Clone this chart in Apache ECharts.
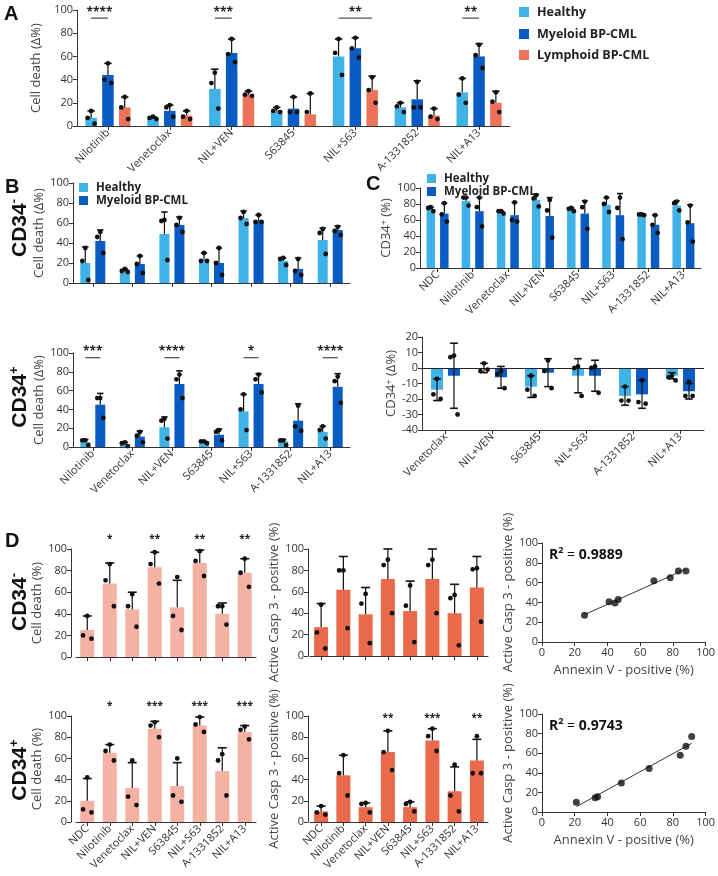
<!DOCTYPE html>
<html><head><meta charset="utf-8">
<script src="https://cdn.jsdelivr.net/npm/echarts@6/dist/echarts.min.js"></script>
<style>html,body{margin:0;padding:0;background:#fff}#c{width:718px;height:876px}</style>
</head><body><div id="c"></div>
<script>
// ---------------- DATA ----------------
const catsA = ['Nilotinib','Venetoclax','NIL+VEN','S63845','NIL+S63','A-1331852','NIL+A13'];
const A_healthyMean = [7, 7, 32, 13, 60, 16, 29];
const A_healthySd   = [6, 1, 17, 3, 15, 4, 12];
const A_healthyPts  = [[13,7,2],[8,7,6],[46,37,15],[16,13,12],[75,63,44],[20,17,12],[41,27,20]];
const A_myeloidMean = [44, 13, 63, 15, 67, 23, 60];
const A_myeloidSd   = [10, 5, 12, 10, 9, 16, 11];
const A_myeloidPts  = [[54,40,37],[18,16,8],[75,62,55],[25,12,12],[76,67,59],[38,16,16],[70,61,50]];
const A_lymphMean   = [16, 9, 27, 10, 31, 9, 20];
const A_lymphSd     = [9, 4, 3, 18, 12, 6, 10];
const A_lymphPts    = [[25,16,6],[13,8,6],[30,27,26],[28,12],[42,31,20],[15,8,6],[29,21,12]];
const A_sig = [{cat:0,from:0,to:1,y:93,t:'****'},{cat:2,from:0,to:1,y:93,t:'***'},{cat:4,from:0,to:2,y:93,t:'**'},{cat:6,from:0,to:1,y:93,t:'**'}];

const B1_healthyMean = [20, 12, 49, 24, 65, 22, 43];
const B1_healthySd   = [16, 2, 22, 6, 7, 3, 12];
const B1_healthyPts  = [[35,22,3],[14,12,11],[63,62,23],[30,22,22],[71,65,59],[25,24,18],[54,50,29]];
const B1_myeloidMean = [42, 19, 58, 20, 62, 14, 53];
const B1_myeloidSd   = [11, 8, 8, 15, 6, 11, 4];
const B1_myeloidPts  = [[51,46,30],[27,19,10],[65,58,51],[35,20,8],[68,61,61],[24,12,8],[56,52,48]];

const B2_healthyMean = [5, 3, 21, 5, 38, 6, 16];
const B2_healthySd   = [3, 2, 11, 1, 18, 2, 6];
const B2_healthyPts  = [[7,7,2],[5,4,1],[30,28,9],[6,6,4],[56,40,18],[7,7,2],[22,18,9]];
const B2_myeloidMean = [45, 11, 67, 13, 67, 28, 64];
const B2_myeloidSd   = [12, 6, 14, 6, 11, 18, 14];
const B2_myeloidPts  = [[52,52,31],[16,12,5],[77,72,52],[18,16,7],[77,72,58],[44,22,17],[75,70,47]];
const B2_sig = [{cat:0,from:0,to:1,y:95,t:'***'},{cat:2,from:0,to:1,y:95,t:'****'},{cat:4,from:0,to:1,y:95,t:'*'},{cat:6,from:0,to:1,y:95,t:'****'}];

const catsC = ['NDC','Nilotinib','Venetoclax','NIL+VEN','S63845','NIL+S63','A-1331852','NIL+A13'];
const C1_healthyMean = [73, 84, 69, 85, 73, 79, 66, 78];
const C1_healthySd   = [3, 4, 2, 7, 2, 9, 1, 6];
const C1_healthyPts  = [[76,75,71],[88,88,78],[71,71,68],[91,87,77],[75,74,71],[88,80,70],[67,67,66],[83,81,72]];
const C1_myeloidMean = [68, 71, 66, 65, 68, 66, 54, 56];
const C1_myeloidSd   = [13, 17, 16, 23, 16, 27, 12, 23];
const C1_myeloidPts  = [[81,67,58],[88,76,52],[82,60,58],[85,72,38],[83,76,49],[88,75,36],[66,54,44],[78,57,33]];

const catsC2 = ['Venetoclax','NIL+VEN','S63845','NIL+S63','A-1331852','NIL+A13'];
const C2_healthyMean = [-14, 0, -12, -5, -18, -5];
const C2_healthySd   = [7, 3, 7, 11, 6, 2];
const C2_healthyPts  = [[-7,-17,-20],[3,-2,-1],[-5,-14,-18],[1,0,-18],[-12,-21,-21],[-5,-6,-8]];
const C2_myeloidMean = [-5, -6, -3, -5, -17, -15];
const C2_myeloidSd   = [21, 7, 9, 10, 9, 5];
const C2_myeloidPts  = [[8,7,-30],[-2,-4,-13],[5,-2,-13],[1,0,-16],[-8,-22,-23],[-9,-18,-18]];

const catsD = catsC;
const D1_deathMean = [25, 68, 44, 83, 46, 87, 40, 78];
const D1_deathSd   = [13, 19, 16, 14, 25, 12, 10, 13];
const D1_deathPts  = [[38,20,17],[86,71,47],[58,47,28],[97,86,68],[74,38,25],[98,89,75],[47,47,30],[91,78,65]];
const D1_deathSig  = [{cat:1,y:108,t:'*'},{cat:3,y:108,t:'**'},{cat:5,y:108,t:'**'},{cat:7,y:108,t:'**'}];
const D1_caspMean  = [27, 62, 39, 72, 42, 72, 40, 64];
const D1_caspSd    = [22, 31, 25, 28, 28, 28, 27, 29];
const D1_caspPts   = [[48,22,7],[80,80,26],[58,49,12],[90,85,40],[66,47,13],[90,85,40],[57,54,10],[82,81,32]];
const S1_annexin   = [26, 41, 44.6, 46.6, 68.4, 78.4, 83.4, 88];
const S1_casp      = [27, 40.6, 39.4, 43, 61.8, 65, 71.8, 71.8];
const S1_r2 = '0.9889';

const D2_deathMean = [20, 65, 32, 88, 34, 91, 48, 85];
const D2_deathSd   = [21, 8, 24, 7, 22, 8, 22, 6];
const D2_deathPts  = [[42,12,9],[73,67,58],[58,24,16],[94,91,80],[60,25,19],[99,92,85],[64,58,25],[90,87,78]];
const D2_deathSig  = [{cat:1,y:108,t:'*'},{cat:3,y:108,t:'***'},{cat:5,y:108,t:'***'},{cat:7,y:108,t:'***'}];
const D2_caspMean  = [10, 44, 14, 66, 14, 77, 29, 58];
const D2_caspSd    = [5, 19, 4, 20, 5, 11, 23, 20];
const D2_caspPts   = [[15,9,7],[63,46,25],[18,17,9],[86,66,49],[19,17,10],[88,81,67],[54,25,10],[81,46,46]];
const D2_caspSig   = [{cat:3,y:97,t:'**'},{cat:5,y:97,t:'***'},{cat:7,y:97,t:'**'}];
const S2_annexin   = [21, 32.5, 34, 48.5, 65.5, 84.5, 88, 91.5];
const S2_casp      = [10, 14.5, 15.5, 29.5, 44.5, 58, 67, 77];
const S2_r2 = '0.9743';

// ---------------- STYLE ----------------
const FF = "'Open Sans', 'DejaVu Sans', sans-serif";
const C_H = '#3FB3E8', C_M = '#0B5CC2', C_L = '#EC7259', C_DL = '#F5B1A2', C_DC = '#EA6A4C';
const AX = '#333';

const grids = [], xAxes = [], yAxes = [], series = [], graphic = [];

function barOff(n, k, w, gap) { return -(n*w + (n-1)*gap)/2 + k*(w+gap) + w/2; }

function addCatGrid(g, cats, y, showX) {
  const gi = grids.length;
  grids.push({left:g.left, top:g.top, width:g.width, height:g.height, containLabel:false});
  xAxes.push({gridIndex:gi, type:'category', data:cats, boundaryGap:true,
    axisLine:{show:true, onZero:false, lineStyle:{color:AX, width:1}},
    axisTick:{show:true, alignWithLabel:true, length:4, lineStyle:{color:AX}},
    axisLabel:{show:showX, interval:0, rotate:45, fontSize:11, color:'#333', fontFamily:FF, margin:5},
    splitLine:{show:false}});
  yAxes.push(Object.assign({gridIndex:gi, type:'value', nameLocation:'middle', nameRotate:90,
    nameTextStyle:Object.assign({fontSize:13, color:'#444', fontFamily:FF}, y.nts||{}),
    axisLine:{show:true, lineStyle:{color:AX, width:1}},
    axisTick:{show:true, length:4, lineStyle:{color:AX}},
    axisLabel:{fontSize:11, color:'#333', fontFamily:FF, margin:4},
    splitLine:{show:false}}, y.opt));
  return gi;
}

function addGroups(gi, groups, w, gap, both) {
  const n = groups.length;
  groups.forEach((gr, k) => {
    const s = {type:'bar', xAxisIndex:gi, yAxisIndex:gi, data:gr.mean, barWidth:w,
      barGap:(gap/w*100)+'%', itemStyle:{color:gr.color}, silent:true, z:2};
    if (gr.markZero) s.markLine = {silent:true, symbol:'none', label:{show:false},
      lineStyle:{color:'#222', type:'solid', width:1}, data:[{yAxis:0}]};
    series.push(s);
    const off = barOff(n, k, w, gap);
    const pts = gr.pts;
    series.push({type:'custom', xAxisIndex:gi, yAxisIndex:gi, z:5, silent:true,
      data: gr.mean.map((m,i)=>[i, m, gr.sd[i]]),
      renderItem(params, api) {
        const i = api.value(0), m = api.value(1), sd = api.value(2);
        const c = api.coord([i, m]);
        const x = c[0] + off, ym = c[1];
        const yh = api.coord([i, m+sd])[1], yl = api.coord([i, m-sd])[1];
        const cw = Math.max(3, w*0.32);
        const ch = [];
        ch.push({type:'line', shape:{x1:x, y1:both?yl:ym, x2:x, y2:yh}, style:{stroke:'#111', lineWidth:1.2}});
        ch.push({type:'line', shape:{x1:x-cw, y1:yh, x2:x+cw, y2:yh}, style:{stroke:'#111', lineWidth:1.6}});
        if (both) ch.push({type:'line', shape:{x1:x-cw, y1:yl, x2:x+cw, y2:yl}, style:{stroke:'#111', lineWidth:1.6}});
        const offs = [0, -0.3*w, 0.3*w];
        (pts[params.dataIndex]||[]).forEach((p, j) => {
          const py = api.coord([i, p])[1];
          ch.push({type:'circle', shape:{cx:x+offs[j], cy:py, r:2.4}, style:{fill:'#111'}});
        });
        return {type:'group', children:ch};
      }});
  });
}

function addSig(gi, list, n, w, gap, withLine, fs) {
  series.push({type:'custom', xAxisIndex:gi, yAxisIndex:gi, z:6, silent:true,
    data: list.map(s=>[s.cat, s.y]),
    renderItem(params, api) {
      const s = list[params.dataIndex];
      const c = api.coord([s.cat, s.y]);
      const ch = [];
      let cx = c[0], ty = c[1] - 1;
      if (withLine) {
        const x1 = c[0] + barOff(n, s.from, w, gap), x2 = c[0] + barOff(n, s.to, w, gap);
        ch.push({type:'line', shape:{x1:x1, y1:c[1], x2:x2, y2:c[1]}, style:{stroke:'#555', lineWidth:1.3}});
        cx = (x1+x2)/2; ty = c[1] - 6;
      }
      ch.push({type:'text', x:cx, y:ty, style:{text:s.t, align:'center', verticalAlign:'middle',
        fontSize:fs, fontWeight:'bold', fontFamily:FF, fill:'#222'}});
      return {type:'group', children:ch};
    }});
}

function addScatter(g, xs, ys, r2) {
  const gi = grids.length;
  grids.push({left:g.left, top:g.top, width:g.width, height:g.height, containLabel:false});
  xAxes.push({gridIndex:gi, type:'value', min:0, max:100, interval:20,
    name:'Annexin V - positive (%)', nameLocation:'middle', nameGap:22,
    nameTextStyle:{fontSize:13, color:'#444', fontFamily:FF},
    axisLine:{show:true, onZero:false, lineStyle:{color:AX}}, axisTick:{show:true, length:4, lineStyle:{color:AX}},
    axisLabel:{fontSize:11, color:'#333', fontFamily:FF, margin:5}, splitLine:{show:false}});
  yAxes.push({gridIndex:gi, type:'value', min:0, max:100, interval:20,
    name:'Active Casp 3 - positive (%)', nameLocation:'middle', nameGap:27,
    nameTextStyle:{fontSize:13, color:'#444', fontFamily:FF},
    axisLine:{show:true, onZero:false, lineStyle:{color:AX}}, axisTick:{show:true, length:4, lineStyle:{color:AX}},
    axisLabel:{fontSize:11, color:'#333', fontFamily:FF, margin:4}, splitLine:{show:false}});
  const n = xs.length;
  const mx = xs.reduce((a,b)=>a+b,0)/n, my = ys.reduce((a,b)=>a+b,0)/n;
  let sxy = 0, sxx = 0;
  for (let i=0;i<n;i++){ sxy += (xs[i]-mx)*(ys[i]-my); sxx += (xs[i]-mx)*(xs[i]-mx); }
  const b = sxy/sxx, a = my - b*mx;
  const x0 = Math.min(...xs), x1 = Math.max(...xs);
  series.push({type:'line', xAxisIndex:gi, yAxisIndex:gi, data:[[x0, a+b*x0],[x1, a+b*x1]],
    symbol:'none', lineStyle:{color:'#333', width:1}, silent:true, z:3});
  series.push({type:'scatter', xAxisIndex:gi, yAxisIndex:gi, data:xs.map((x,i)=>[x, ys[i]]),
    symbol:'circle', symbolSize:7, itemStyle:{color:'#111'}, silent:true, z:4});
  graphic.push({type:'text', left:g.left+7, top:g.top+3, style:{
    text:'{b|R}{s|2}{n| = }{b|'+r2+'}',
    rich:{b:{fontSize:14, fontWeight:'bold', fontFamily:FF, fill:'#111', lineHeight:18},
          s:{fontSize:9, fontWeight:'bold', fontFamily:FF, fill:'#111', verticalAlign:'top', lineHeight:18},
          n:{fontSize:14, fontFamily:FF, fill:'#111', lineHeight:18}}}});
}

const yPct = {min:0, max:100, interval:20};

// ---------------- PANEL A ----------------
let g = addCatGrid({left:77, top:10, width:433, height:116}, catsA,
  {opt:Object.assign({name:'Cell death (\u0394%)', nameGap:26}, yPct)}, true);
addGroups(g, [
  {mean:A_healthyMean, sd:A_healthySd, pts:A_healthyPts, color:C_H},
  {mean:A_myeloidMean, sd:A_myeloidSd, pts:A_myeloidPts, color:C_M},
  {mean:A_lymphMean, sd:A_lymphSd, pts:A_lymphPts, color:C_L}], 11.5, 5.3, false);
addSig(g, A_sig, 3, 11.5, 5.3, true, 12);

// ---------------- PANEL B ----------------
g = addCatGrid({left:73, top:183, width:277, height:100}, catsA,
  {opt:Object.assign({name:'Cell death (\u0394%)', nameGap:20}, yPct)}, false);
addGroups(g, [
  {mean:B1_healthyMean, sd:B1_healthySd, pts:B1_healthyPts, color:C_H},
  {mean:B1_myeloidMean, sd:B1_myeloidSd, pts:B1_myeloidPts, color:C_M}], 10, 5, false);

g = addCatGrid({left:73, top:353, width:277, height:94}, catsA,
  {opt:Object.assign({name:'Cell death (\u0394%)', nameGap:20}, yPct)}, true);
addGroups(g, [
  {mean:B2_healthyMean, sd:B2_healthySd, pts:B2_healthyPts, color:C_H},
  {mean:B2_myeloidMean, sd:B2_myeloidSd, pts:B2_myeloidPts, color:C_M}], 10, 5, false);
addSig(g, B2_sig, 2, 10, 5, true, 12);

// ---------------- PANEL C ----------------
const cdRich = {a:{fontSize:13, color:'#444', fontFamily:FF}, s:{fontSize:9, color:'#444', fontFamily:FF, verticalAlign:'top'}};
g = addCatGrid({left:420, top:188, width:281, height:80}, catsC,
  {opt:Object.assign({name:'{a|CD34}{s|+}{a| (%)}', nameGap:18}, yPct), nts:{rich:cdRich}}, true);
addGroups(g, [
  {mean:C1_healthyMean, sd:C1_healthySd, pts:C1_healthyPts, color:C_H},
  {mean:C1_myeloidMean, sd:C1_myeloidSd, pts:C1_myeloidPts, color:C_M}], 8.5, 5, false);

g = addCatGrid({left:422, top:337, width:282, height:93}, catsC2,
  {opt:{min:-40, max:20, interval:10, name:'{a|CD34}{s|+}{a| (\u0394%)}', nameGap:17}, nts:{rich:cdRich}}, true);
addGroups(g, [
  {mean:C2_healthyMean, sd:C2_healthySd, pts:C2_healthyPts, color:C_H, markZero:true},
  {mean:C2_myeloidMean, sd:C2_myeloidSd, pts:C2_myeloidPts, color:C_M}], 12, 5, true);

// ---------------- PANEL D ----------------
g = addCatGrid({left:76, top:549, width:180, height:108}, catsD,
  {opt:Object.assign({name:'Cell death (%)', nameGap:22, offset:5}, yPct)}, false);
addGroups(g, [{mean:D1_deathMean, sd:D1_deathSd, pts:D1_deathPts, color:C_DL}], 14, 0, false);
addSig(g, D1_deathSig, 1, 14, 0, false, 10);

g = addCatGrid({left:310, top:549, width:178, height:107}, catsD,
  {opt:Object.assign({name:'Active Casp 3 - positive (%)', nameGap:23, offset:2}, yPct)}, false);
addGroups(g, [{mean:D1_caspMean, sd:D1_caspSd, pts:D1_caspPts, color:C_DC}], 14, 0, false);

addScatter({left:542, top:543, width:166, height:99}, S1_annexin, S1_casp, S1_r2);

g = addCatGrid({left:76, top:716, width:180, height:106}, catsD,
  {opt:Object.assign({name:'Cell death (%)', nameGap:22, offset:5}, yPct)}, true);
addGroups(g, [{mean:D2_deathMean, sd:D2_deathSd, pts:D2_deathPts, color:C_DL}], 14, 0, false);
addSig(g, D2_deathSig, 1, 14, 0, false, 10);

g = addCatGrid({left:310, top:716, width:178, height:106}, catsD,
  {opt:Object.assign({name:'Active Casp 3 - positive (%)', nameGap:23, offset:2}, yPct)}, true);
addGroups(g, [{mean:D2_caspMean, sd:D2_caspSd, pts:D2_caspPts, color:C_DC}], 14, 0, false);
addSig(g, D2_caspSig, 1, 14, 0, false, 10);

addScatter({left:542, top:714, width:166, height:98}, S2_annexin, S2_casp, S2_r2);

// ---------------- GRAPHICS: letters, legends, row labels ----------------
function letter(t, x, y) {
  graphic.push({type:'text', x:x, y:y, style:{text:t, fontSize:20, fontWeight:'bold', fontFamily:'Liberation Sans, Arial, sans-serif', fill:'#111', align:'left', verticalAlign:'middle'}});
}
letter('A', 4, 14); letter('B', 5, 187); letter('C', 366, 184); letter('D', 5, 541);

function legendItem(x, y, size, color, label, fs) {
  graphic.push({type:'rect', shape:{x:x, y:y, width:size, height:size}, style:{fill:color}});
  graphic.push({type:'text', x:x+size+8, y:y+size/2, style:{text:label, fontSize:fs, fontWeight:'bold', fontFamily:FF, fill:'#222', align:'left', verticalAlign:'middle'}});
}
legendItem(519, 7, 10, C_H, 'Healthy', 12.5);
legendItem(519, 29, 10, C_M, 'Myeloid BP-CML', 12.5);
legendItem(519, 50, 10, C_L, 'Lymphoid BP-CML', 12.5);
legendItem(79, 183, 9, C_H, 'Healthy', 11.5);
legendItem(79, 196, 9, C_M, 'Myeloid BP-CML', 11.5);
legendItem(427, 174, 9, C_H, 'Healthy', 11.5);
legendItem(427, 187, 9, C_M, 'Myeloid BP-CML', 11.5);

function rowLabel(sign, x, y) {
  graphic.push({type:'text', x:x, y:y, rotation:Math.PI/2, style:{
    text:'{b|CD34}{s|'+sign+'}', align:'center', verticalAlign:'middle',
    rich:{b:{fontSize:21, fontWeight:'bold', fontFamily:'Liberation Sans, Arial, sans-serif', fill:'#111', lineHeight:24},
          s:{fontSize:13, fontWeight:'bold', fontFamily:'Liberation Sans, Arial, sans-serif', fill:'#111', verticalAlign:'top', lineHeight:24}}}});
}
rowLabel('-', 20, 228); rowLabel('+', 20, 397); rowLabel('-', 20, 602); rowLabel('+', 20, 770);

const chart = echarts.init(document.getElementById('c'), null, {renderer:'canvas'});
chart.setOption({animation:false, backgroundColor:'#fff', grid:grids, xAxis:xAxes, yAxis:yAxes, series:series, graphic:graphic});
</script></body></html>
